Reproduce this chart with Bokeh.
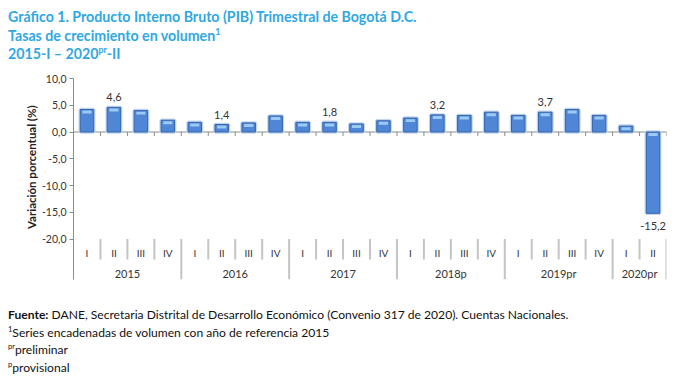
from bokeh.plotting import figure
from bokeh.models import Range1d, Div, CustomJSTickFormatter, ColumnDataSource, FixedTicker
from bokeh.layouts import column, row
from bokeh.embed import file_html
from bokeh.resources import INLINE
from bokeh.core.properties import value
import math

# ---------------- data ----------------
years = ["2015", "2016", "2017", "2018p", "2019pr", "2020pr"]
quarters_per_year = [4, 4, 4, 4, 4, 2]
quarter_names = ["I", "II", "III", "IV"]
growth = [4.2, 4.6, 4.0, 2.2,
          1.8, 1.4, 1.7, 3.0,
          1.8, 1.8, 1.5, 2.1,
          2.6, 3.2, 3.1, 3.7,
          3.1, 3.7, 4.2, 3.1,
          1.1, -15.2]
labelled_idx = [1, 5, 9, 13, 17, 21]
y_ticks = [-20, -15, -10, -5, 0, 5, 10]
y_title = "Variación porcentual (%)"

FONT = "Lato"
TXT = "#333333"
FIG_H = 213
LAB_W = 38

n = len(growth)
xs = [i + 0.5 for i in range(n)]
qlabels = []
for nq in quarters_per_year:
    qlabels += quarter_names[:nq]

y_top = 10
y_bot = -27.57

# ---- narrow strip holding the rotated y-axis title ----
lab = figure(width=LAB_W, height=FIG_H, output_backend="svg", toolbar_location=None,
             x_range=Range1d(0, LAB_W), y_range=Range1d(0, FIG_H),
             min_border=0, min_border_left=0, min_border_right=0,
             min_border_top=0, min_border_bottom=0)
lab.axis.visible = False
lab.grid.visible = False
lab.outline_line_color = None
lab.text(x=[31], y=[FIG_H - 94], text=[y_title], angle=math.pi / 2,
         text_align="center", text_baseline="middle",
         text_font=value(FONT), text_font_style="bold", text_font_size="11.5px",
         text_color="#222222")

# ---- main chart ----
p = figure(width=645, height=FIG_H, output_backend="svg", toolbar_location=None,
           x_range=Range1d(0, n), y_range=Range1d(y_bot, y_top),
           min_border_left=35, min_border_right=17, min_border_top=8, min_border_bottom=4)
p.outline_line_color = None
p.xgrid.visible = False
p.ygrid.visible = False
p.xaxis.visible = False
p.background_fill_color = "white"
p.border_fill_color = "white"

ya = p.yaxis[0]
ya.ticker = FixedTicker(ticks=y_ticks)
ya.formatter = CustomJSTickFormatter(code="return tick.toFixed(1).replace('.', ',');")
ya.axis_line_color = "#8c8c8c"
ya.major_tick_line_color = "#8c8c8c"
ya.major_tick_out = 4
ya.major_tick_in = 0
ya.minor_tick_line_color = None
ya.major_label_text_font = FONT
ya.major_label_text_font_size = "10.5px"
ya.major_label_text_color = TXT
ya.major_label_standoff = 3

# zero line with small ticks
p.segment(x0=[0], y0=[0], x1=[n], y1=[0], line_color="#8c8c8c", line_width=1)
bounds = list(range(1, n + 1))
p.segment(x0=bounds, y0=[0] * len(bounds), x1=bounds, y1=[-0.75] * len(bounds),
          line_color="#8c8c8c", line_width=1)

# bars
tops = [max(v, 0) for v in growth]
bots = [min(v, 0) for v in growth]
src = ColumnDataSource(dict(x=xs, top=tops, bottom=bots))
p.vbar(x="x", top="top", bottom="bottom", width=0.5, source=src,
       fill_color="#4f87d6", line_color="#c3d5ee", line_width=3.5)
p.vbar(x="x", top="top", bottom="bottom", width=0.5, source=src,
       fill_color="#4f87d6", line_color="#3566ad", line_width=1)
hl_top = [t - 0.2 for t in tops]
hl_bot = [t - 0.75 for t in tops]
p.vbar(x=xs, top=hl_top, bottom=hl_bot, width=0.34,
       fill_color="#9ccaf4", line_color=None)

# data labels
lx = [xs[i] for i in labelled_idx]
ly = [growth[i] for i in labelled_idx]
lt = [("%.1f" % growth[i]).replace(".", ",") for i in labelled_idx]
loff = [-10 if growth[i] >= 0 else 13 for i in labelled_idx]
p.text(x=lx, y=ly, text=lt, y_offset=loff, text_align="center", text_baseline="middle",
       text_font=value(FONT), text_font_size="11px", text_color=TXT)

# category separators below the plot
q_sep_bottom = -23.83
year_bounds = []
acc = 0
for nq in quarters_per_year:
    acc += nq
    year_bounds.append(acc)
qb = [b for b in bounds if b not in year_bounds]
p.segment(x0=qb, y0=[-20] * len(qb), x1=qb, y1=[q_sep_bottom] * len(qb),
          line_color="#c4c4c4", line_width=2)
p.segment(x0=year_bounds, y0=[-20] * len(year_bounds), x1=year_bounds,
          y1=[y_bot] * len(year_bounds), line_color="#c4c4c4", line_width=2)

p.text(x=xs, y=[-22.65] * n, text=qlabels, text_align="center", text_baseline="middle",
       text_font=value(FONT), text_font_size="10px", text_color=TXT)
ycent = []
start = 0
for nq in quarters_per_year:
    ycent.append(start + nq / 2)
    start += nq
p.text(x=ycent, y=[-26.5] * len(years), text=years, text_align="center", text_baseline="middle",
       text_font=value(FONT), text_font_size="11px", text_color=TXT)

title = Div(width=683, height=60, text=(
    '<div style="font-family:Lato;font-weight:bold;font-size:14.2px;line-height:18.5px;'
    'color:#2fa8e2;padding-top:3px;padding-left:3px;white-space:nowrap">'
    'Gráfico 1. Producto Interno Bruto (PIB) Trimestral de Bogotá D.C.<br>'
    'Tasas de crecimiento en volumen<sup style="font-size:0.62em;line-height:0">1</sup><br>'
    '2015-I – 2020<sup style="font-size:0.62em;line-height:0">pr</sup>-II</div>'))

footer = Div(width=683, height=93, text=(
    '<div style="font-family:Lato;font-size:12.1px;line-height:17.7px;color:#111111;'
    'padding-top:18px;padding-left:3px;white-space:nowrap">'
    '<b>Fuente:</b> DANE, Secretaria Distrital de Desarrollo Económico (Convenio 317 de 2020). Cuentas Nacionales.<br>'
    '<sup style="font-size:0.62em;line-height:0">1</sup>Series encadenadas de volumen con año de referencia 2015<br>'
    '<sup style="font-size:0.62em;line-height:0">pr</sup>preliminar<br>'
    '<sup style="font-size:0.62em;line-height:0">p</sup>provisional</div>'))

layout = column(title, row(lab, p, spacing=0), footer, spacing=0)
open("out.html", "w").write(file_html(layout, INLINE))
